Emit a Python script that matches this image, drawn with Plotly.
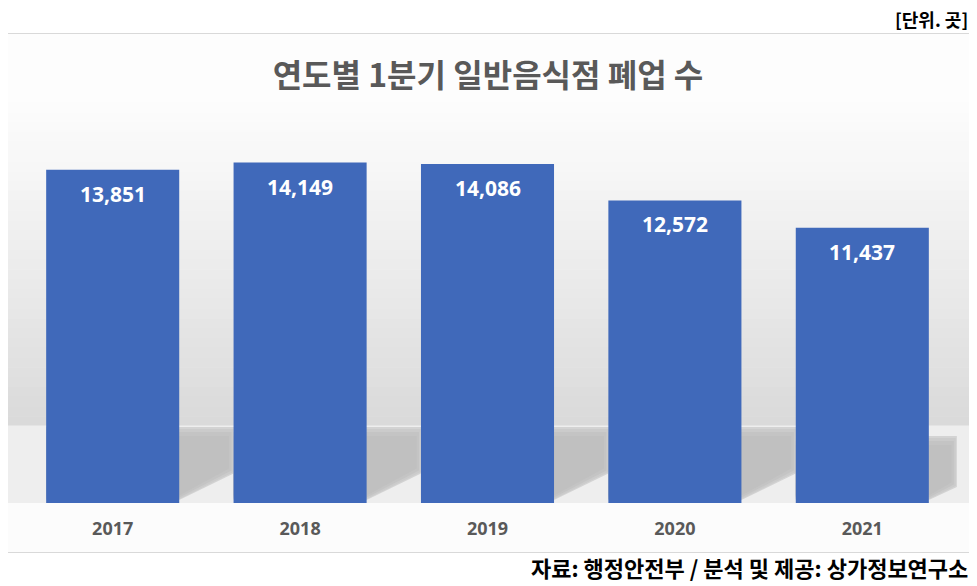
import plotly.graph_objects as go

# data
years = ["2017", "2018", "2019", "2020", "2021"]
closures = [13851, 14149, 14086, 12572, 11437]
title_text = "연도별 1분기 일반음식점 폐업 수"
unit_text = "[단위. 곳]"
source_text = "자료: 행정안전부 / 분석 및 제공: 상가정보연구소"

# the page body adds an 8px margin, so the figure is drawn 8px in from the window corner
OFF = 8
W, H = 977 - OFF, 586 - OFF
# plot area in window pixels: x 19..956, y 118..503
SX0, SX1, SY0, SY1 = 19, 956, 118, 503
L, R, T, B = SX0 - OFF, W - (SX1 - OFF), SY0 - OFF, H - (SY1 - OFF)
KR = "Noto Sans CJK KR"


def px(x):
    return (x - SX0) / (SX1 - SX0)


def py(y):
    return (SY1 - y) / (SY1 - SY0)


def grey(v):
    v = int(round(v))
    return f"rgb({v},{v},{v})"


fig = go.Figure()
fig.add_trace(go.Bar(
    x=years, y=closures,
    marker=dict(color="#4069BA", line=dict(width=0)),
    hoverinfo="x+y",
))

shapes = []
# background gradient inside the frame
y0, y1, n = 34, 426, 40
for i in range(n):
    a = y0 + (y1 - y0) * i / n
    b = y0 + (y1 - y0) * (i + 1) / n + 0.6
    t = i / (n - 1)
    c = 253 - 35 * max(0.0, (t - 0.15) / 0.85) ** 1.1
    shapes.append(dict(type="rect", xref="paper", yref="paper", layer="below",
                       x0=px(2), x1=px(975), y0=py(b), y1=py(a),
                       fillcolor=grey(c), line=dict(width=0)))
shapes.append(dict(type="rect", xref="paper", yref="paper", layer="below",
                   x0=px(2), x1=px(975), y0=py(503), y1=py(425.5),
                   fillcolor="#eeeeee", line=dict(width=0)))
shapes.append(dict(type="rect", xref="paper", yref="paper", layer="below",
                   x0=px(2), x1=px(975), y0=py(552), y1=py(503),
                   fillcolor="#fcfcfc", line=dict(width=0)))

# soft shadows cast behind each bar (reach the next bar; the last one is shorter)
step = (SX1 - SX0) / len(years)
half = 0.355 * step
gap = step - 2 * half
for i in range(len(years)):
    cx = SX0 + (i + 0.5) * step
    lx, rx = cx - half, cx + half
    last = i == len(years) - 1
    ext = 28 if last else gap + 1
    rise = 13 if last else 27
    top0 = 436 if last else 427
    for off, col in [(0, "#d3d3d3"), (2, "#cbcbcb"), (5, "#c4c4c4"), (9, "#c0c0c0")]:
        top = top0 + off
        bot = 500 - off * 0.5
        path = (f"M {px(lx):.5f},{py(top):.5f} L {px(rx + ext - off * 0.6):.5f},{py(top):.5f} "
                f"L {px(rx + ext - off * 0.6):.5f},{py(bot - rise):.5f} L {px(rx):.5f},{py(bot):.5f} "
                f"L {px(lx):.5f},{py(bot):.5f} Z")
        shapes.append(dict(type="path", path=path, xref="paper", yref="paper",
                           layer="below", fillcolor=col, line=dict(width=0)))

# frame
shapes.append(dict(type="rect", xref="paper", yref="paper", layer="below",
                   x0=px(1.5), x1=px(975.5), y0=py(552.5), y1=py(33.5),
                   fillcolor="rgba(0,0,0,0)", line=dict(color="#d9d9d9", width=1)))

annotations = []
for i, v in enumerate(closures):
    annotations.append(dict(x=i, y=v, xref="x", yref="y", text=f"{v:,}",
                            showarrow=False, yanchor="top", yshift=-8,
                            font=dict(family="Noto Sans", size=21, color="white", weight="bold")))
annotations.append(dict(x=px(970), y=py(19), xref="paper", yref="paper",
                        text=unit_text, showarrow=False, xanchor="right", yanchor="middle",
                        font=dict(family=KR, size=18, color="black", weight="bold")))
annotations.append(dict(x=px(970), y=py(567), xref="paper", yref="paper",
                        text=source_text, showarrow=False, xanchor="right", yanchor="middle",
                        font=dict(family=KR, size=22, color="black", weight="bold")))

fig.update_layout(
    width=W, height=H,
    margin=dict(l=L, r=R, t=T, b=B, autoexpand=False),
    paper_bgcolor="white",
    plot_bgcolor="rgba(0,0,0,0)",
    showlegend=False,
    bargap=0.29,
    title=dict(text=title_text, x=(488 - OFF) / W, xanchor="center",
               y=1 - (76 - OFF) / H, yanchor="middle",
               font=dict(family=KR, size=32, color="#595959", weight="bold")),
    xaxis=dict(type="category", range=[-0.5, len(years) - 0.5], showgrid=False,
               showline=False, zeroline=False, ticks="", ticklabelstandoff=13,
               tickfont=dict(family="Noto Sans", size=18, color="#595959", weight="bold")),
    yaxis=dict(range=[0, 16000], visible=False, showgrid=False, zeroline=False),
    shapes=shapes,
    annotations=annotations,
)

fig.write_html("out.html")
